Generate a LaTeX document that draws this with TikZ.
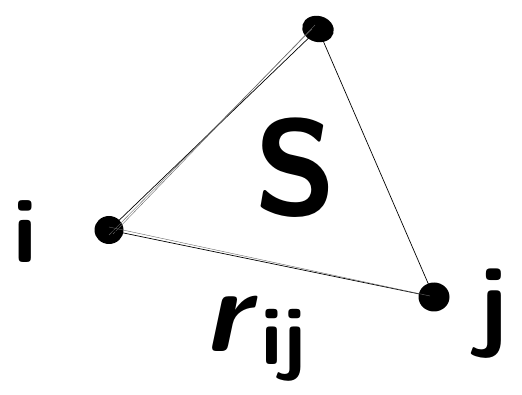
\documentclass[tikz,border=0pt]{standalone}
\usetikzlibrary{shapes.geometric}
\begin{document}
\begin{tikzpicture}[x=1pt,y=-1pt,
  vdot/.style={ellipse,fill=black,inner sep=0pt},
  edge/.style={line width=0.7pt},
  faint/.style={line width=0.4pt,black!60},
  lbl/.style={inner sep=0pt,font=\fontsize{#1}{#1}\selectfont\sffamily\bfseries}]
\useasboundingbox[fill=white] (0,0) rectangle (522,395);
\node[vdot,minimum width=32pt,minimum height=26pt,rotate=-15] (t) at (318,29) {};
\node[vdot,minimum width=29pt,minimum height=28pt] (l) at (109,230) {};
\node[vdot,minimum width=31pt,minimum height=29pt] (r) at (434,297) {};
\draw[edge] (l.center) -- (t.center);
\draw[faint] ([yshift=-5pt]l.center) -- ([xshift=-6pt]t.center);
\draw[faint] ([xshift=4pt,yshift=-4pt]l.center) -- ([xshift=-3pt,yshift=4pt]t.center);
\draw[edge] (t.center) -- (r.center);
\draw[edge] (l.center) -- (r.center);
\draw[faint] ([yshift=3pt]l.center) -- ([xshift=-4pt,yshift=1pt]r.center);
\node[lbl=92] (i) at (25,232) {i};
\node[lbl=102] (j) at (493,314) {j};
\node[lbl=135] (s) at (296,168) {S};
\node[lbl=118] (rr) at (226,324) {\itshape r};
\node[lbl=82] (ij) at (284,345) {ij};
\end{tikzpicture}
\end{document}
